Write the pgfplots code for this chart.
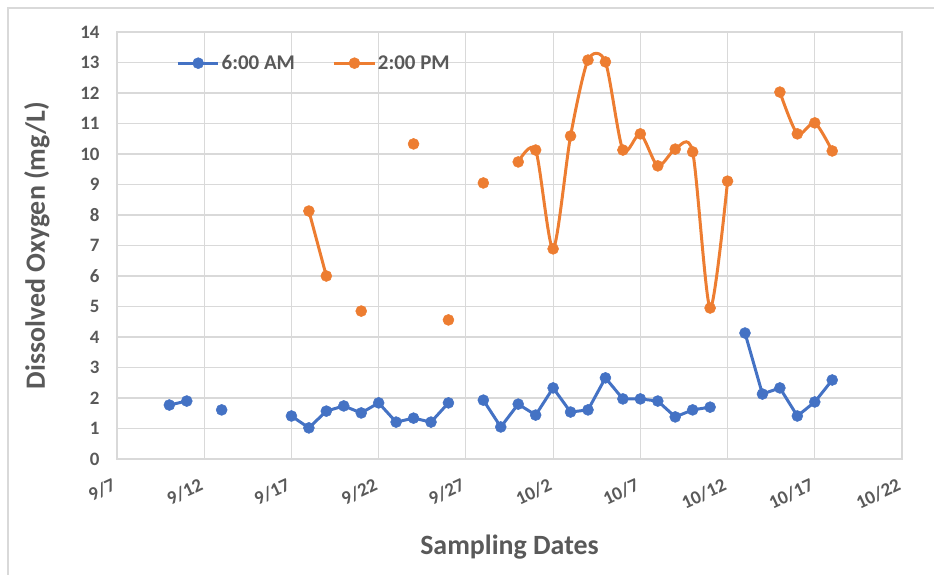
\documentclass[border=0pt]{standalone}
\usepackage{pgfplots}
\usepackage{pgfplotstable}
\pgfplotsset{compat=1.18}
\usepackage{fontspec}
\setmainfont{Carlito}
\definecolor{cblue}{HTML}{4472C4}
\definecolor{corange}{HTML}{ED7D31}
\definecolor{ctext}{HTML}{595959}
\definecolor{cgrid}{HTML}{D9D9D9}
\pgfplotstableread{
x am pm
3 1.77 nan
4 1.90 nan
5 nan nan
6 1.61 nan
7 nan nan
8 nan nan
9 nan nan
10 1.41 nan
11 1.02 8.13
12 1.57 6.00
13 1.74 nan
14 1.51 4.85
15 1.84 nan
16 1.21 nan
17 1.34 10.33
18 1.21 nan
19 1.84 4.56
20 nan nan
21 1.93 9.05
22 1.05 nan
23 1.80 9.74
24 1.44 10.13
25 2.33 6.89
26 1.54 10.59
27 1.61 13.08
28 2.66 13.02
29 1.97 10.13
30 1.97 10.66
31 1.90 9.61
32 1.38 10.16
33 1.61 10.07
34 1.70 4.95
35 nan 9.11
36 4.13 nan
37 2.13 nan
38 2.33 12.03
39 1.41 10.66
40 1.87 11.02
41 2.59 10.10
}\datatable
\begin{document}
\begin{tikzpicture}[x=1bp,y=1bp]
\begin{axis}[
  at={(0,0)}, anchor=south west,
  scale only axis, width=785bp, height=427bp,
  xmin=0, xmax=45, ymin=0, ymax=14,
  xtick={0,5,...,45},
  xticklabels={9/7,9/12,9/17,9/22,9/27,10/2,10/7,10/12,10/17,10/22},
  ytick={0,1,...,14},
  grid=major,
  major grid style={cgrid, line width=1.2bp},
  axis line style={cgrid, line width=1.2bp},
  tick style={draw=none},
  /pgf/number format/assume math mode=true,
  x tick label style={font=\fontsize{19}{19}\selectfont\bfseries, text=ctext, xshift=-4bp, yshift=-14bp, rotate=25, anchor=north east},
  y tick label style={font=\fontsize{19}{19}\selectfont\bfseries, text=ctext, xshift=-14bp},
  xlabel={Sampling Dates},
  ylabel={Dissolved Oxygen (mg/L)},
  every axis x label/.style={at={(axis description cs:0.5,0)}, anchor=center, yshift=-88bp, font=\fontsize{28}{28}\selectfont\bfseries, text=ctext},
  every axis y label/.style={at={(axis description cs:0,0.5)}, xshift=-80bp, rotate=90, anchor=center, font=\fontsize{28}{28}\selectfont\bfseries, text=ctext},
  unbounded coords=jump,
  legend columns=2,
  legend style={draw=none, fill=none, at={(0.072,0.927)}, anchor=west,
    font=\fontsize{21}{21}\selectfont\bfseries, text=ctext,
    /tikz/every even column/.append style={column sep=36bp}},
  legend image code/.code={\draw[mark repeat=2,mark phase=2,#1] plot coordinates {(0bp,0bp) (20bp,0bp) (40bp,0bp)};},
]
\addplot[cblue, line width=3bp, mark=*, mark size=5.5bp, mark options={solid, fill=cblue, draw=cblue, line width=0.5bp}] table[x=x, y=am] {\datatable};
\addlegendentry{6:00 AM}
\addplot[corange, line width=3bp, smooth, tension=0.45, mark=*, mark size=5.5bp, mark options={solid, fill=corange, draw=corange, line width=0.5bp}] table[x=x, y=pm] {\datatable};
\addlegendentry{2:00 PM}
\end{axis}
\draw[cgrid, line width=1.5bp] (-109bp,-116bp) -- (-109bp,451bp) -- (817bp,451bp);
\pgfresetboundingbox
\path[use as bounding box] (-117bp,-116bp) rectangle (817bp,459bp);
\end{tikzpicture}
\end{document}
